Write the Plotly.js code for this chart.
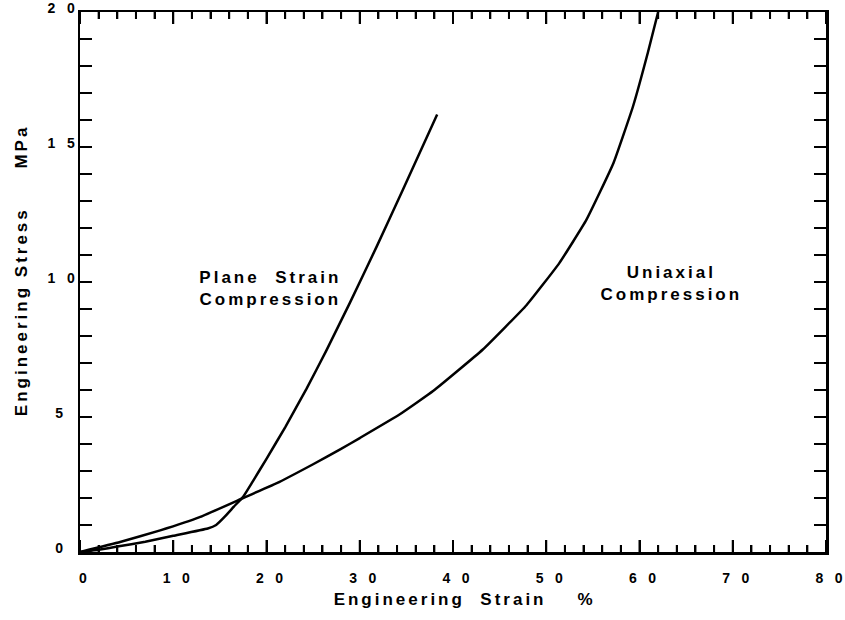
<!DOCTYPE html>
<html>
<head>
<meta charset="utf-8">
<script src="https://cdn.plot.ly/plotly-3.0.1.min.js"></script>
<style>
  html, body { margin: 0; padding: 0; background: #fff; }
  #chart { width: 845px; height: 620px; }
</style>
</head>
<body>
<div id="chart"></div>
<script>
// Plane strain compression (engineering strain %, engineering stress MPa)
const planeStrain = [0, 2, 4, 7, 10, 13.7, 14.6, 15.5, 16.5, 17.5, 18.5, 20, 22, 24.3, 26.4, 28.9, 31.8, 34.6, 38.3];
const planeStress = [0, 0.08, 0.2, 0.38, 0.6, 0.87, 1.0, 1.3, 1.68, 2.05, 2.6, 3.45, 4.62, 6.05, 7.45, 9.2, 11.3, 13.4, 16.2];

// Uniaxial compression
const uniStrain = [0, 4.3, 8.6, 12.9, 17.5, 21.4, 25, 27.9, 30, 34.3, 37.9, 43.2, 47.9, 51.4, 54.3, 57.2, 59.3, 60.9, 62.0];
const uniStress = [0, 0.37, 0.8, 1.3, 2.0, 2.6, 3.25, 3.8, 4.22, 5.1, 5.97, 7.5, 9.15, 10.7, 12.3, 14.4, 16.5, 18.5, 20.0];

// Tick labels (spaced digits as in the original)
const xTickVals = [0, 10, 20, 30, 40, 50, 60, 70, 80];
const xTickText = ["0", "1\u00A0\u00A0\u00A00", "2\u00A0\u00A0\u00A00", "3\u00A0\u00A0\u00A00", "4\u00A0\u00A0\u00A00", "5\u00A0\u00A0\u00A00", "6\u00A0\u00A0\u00A00", "7\u00A0\u00A0\u00A00", "8\u00A0\u00A0\u00A00"];
const xMinorStep = 2;
const yTickVals = [0, 5, 10, 15, 20];
const yTickText = ["0\u00A0\u00A0\u00A0", "5\u00A0\u00A0\u00A0", "1\u00A0\u00A0\u00A00", "1\u00A0\u00A0\u00A05", "2\u00A0\u00A0\u00A00"];

// Labels
const labelPlane = "Plane\u00A0\u00A0Strain<br>Compression";
const labelUni = "Uniaxial<br>Compression";
const xTitle = "\u200B\u00A0\u00A0\u00A0Engineering\u00A0\u00A0Strain\u00A0\u00A0\u00A0\u00A0%";
const yTitle = "\u200B\u00A0\u00A0\u00A0Engineering\u00A0Stress\u00A0\u00A0\u00A0\u00A0\u00A0MPa";

const FONT = "Liberation Sans, Arial, Helvetica, sans-serif";
const W = 845, H = 620;
const M = { l: 80, r: 19, t: 12, b: 68 };
const yRange = [0, 20];
const pxPerStress = (H - M.t - M.b) / (yRange[1] - yRange[0]);

const lineStyle = { color: "#000", width: 2.5, shape: "spline", smoothing: 0.35 };

// Strain-axis tick marks (bottom and mirrored top), drawn through the axes' scales
const tickX = [], tickY = [];
for (let v = xTickVals[0]; v <= xTickVals[xTickVals.length - 1]; v += xMinorStep) {
  const len = (xTickVals.indexOf(v) >= 0 ? 12 : 7) / pxPerStress;
  tickX.push(v, v, null, v, v, null);
  tickY.push(yRange[0], yRange[0] + len, null, yRange[1], yRange[1] - len, null);
}

const traces = [
  { x: tickX, y: tickY, type: "scatter", mode: "lines", line: { color: "#000", width: 2 },
    hoverinfo: "skip", showlegend: false, cliponaxis: false, connectgaps: false, xaxis: "x", yaxis: "y", name: "ticks" },
  { x: planeStrain, y: planeStress, type: "scatter", mode: "lines", line: lineStyle, name: "Plane Strain Compression", hoverinfo: "skip", xaxis: "x", yaxis: "y" },
  { x: uniStrain, y: uniStress, type: "scatter", mode: "lines", line: lineStyle, name: "Uniaxial Compression", hoverinfo: "skip", xaxis: "x2", yaxis: "y" }
];

const tickFont = { family: FONT, size: 14, color: "#000", weight: "bold" };
const titleFont = { family: FONT, size: 17, color: "#000", weight: "bold" };

const layout = {
  width: W, height: H,
  margin: M,
  showlegend: false,
  xaxis: {
    range: [0, 80], showline: true, linecolor: "#000", linewidth: 2.5, mirror: "allticks",
    ticks: "inside", tickcolor: "#000", tickwidth: 2, ticklen: 12,
    tickmode: "array", tickvals: xTickVals, showticklabels: false,
    showgrid: false, zeroline: false,
    minor: { dtick: xMinorStep, ticks: "inside", ticklen: 7, tickwidth: 2, tickcolor: "#000", showgrid: false }
  },
  xaxis2: {
    overlaying: "x", anchor: "y", side: "bottom", range: [0, 80],
    showline: false, ticks: "", showgrid: false, zeroline: false,
    tickmode: "array", tickvals: xTickVals, ticktext: xTickText, tickfont: tickFont,
    ticklabelshift: 3, ticklabelstandoff: 16,
    title: { text: xTitle, standoff: 8, font: titleFont }
  },
  yaxis: {
    range: yRange, showline: true, linecolor: "#000", linewidth: 2.5, mirror: "allticks",
    ticks: "inside", tickcolor: "#000", tickwidth: 2, ticklen: 12,
    tickmode: "array", tickvals: yTickVals, ticktext: yTickText, tickfont: tickFont,
    ticklabelshift: -4, ticklabeloverflow: "allow",
    showgrid: false, zeroline: false,
    minor: { dtick: 1, ticks: "inside", ticklen: 7, tickwidth: 2, tickcolor: "#000", showgrid: false },
    title: { text: yTitle, standoff: 16, font: titleFont }
  },
  annotations: [
    { x: 20.4, y: 9.75, xref: "x", yref: "y", text: labelPlane, showarrow: false, align: "center",
      font: { family: FONT, size: 17, color: "#000", weight: "bold" } },
    { x: 63.4, y: 9.95, xref: "x", yref: "y", text: labelUni, showarrow: false, align: "center",
      font: { family: FONT, size: 17, color: "#000", weight: "bold" } }
  ]
};

Plotly.newPlot("chart", traces, layout, { staticPlot: true, displayModeBar: false }).then(function (gd) {
  gd.querySelectorAll(".annotation-text, .x2title, .xtitle, .ytitle").forEach(function (el) {
    el.style.letterSpacing = "3px";
  });
});
</script>
</body>
</html>
